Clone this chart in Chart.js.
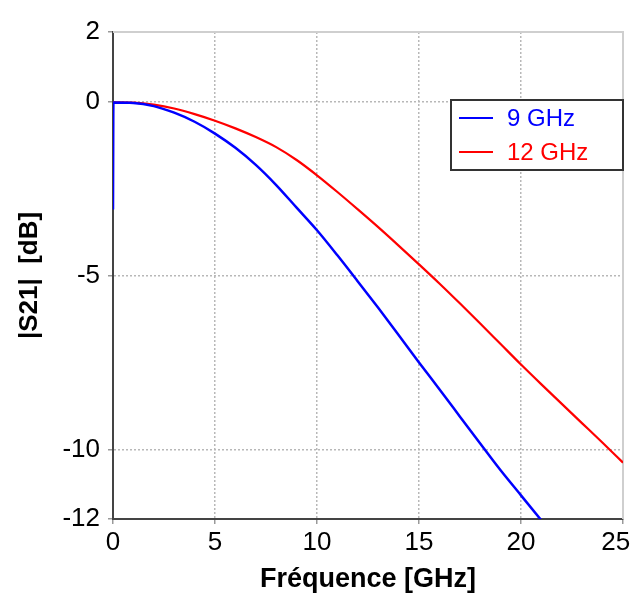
<!DOCTYPE html>
<html><head><meta charset="utf-8">
<script src="https://cdn.jsdelivr.net/npm/chart.js@4/dist/chart.umd.min.js"></script>
<style>html,body{margin:0;padding:0;background:#fff}#wrap{width:630px;height:594px}</style>
</head><body><div id="wrap"><canvas id="c" width="630" height="594"></canvas></div>
<script>
// Data
const freqGHz = [0,1,2,3,4,5,6,7,8,9,10,11,12,13,14,15,16,17,18,19,20,21,22,23,24,25];
const s21_9GHz = [-0.03,-0.04,-0.13,-0.32,-0.58,-0.92,-1.33,-1.82,-2.40,-3.05,-3.70,-4.42,-5.17,-5.93,-6.71,-7.5,-8.27,-9.05,-9.83,-10.6,-11.32,-12.04];
const s21_9GHzStart = -3.1;
const s21_12GHz = [-0.02,-0.03,-0.09,-0.2,-0.36,-0.55,-0.77,-1.02,-1.31,-1.68,-2.12,-2.6,-3.1,-3.61,-4.14,-4.68,-5.23,-5.8,-6.38,-6.97,-7.56,-8.13,-8.69,-9.25,-9.81,-10.38];
const xTicks = [0,5,10,15,20,25];
const yTicks = [2,0,-5,-10,-12];
const seriesLabels = ['9 GHz','12 GHz'];

const blueData = [{x:0,y:s21_9GHzStart}].concat(s21_9GHz.map((v,i)=>({x:freqGHz[i]+(i===0?0.02:0),y:v})));
const redData = s21_12GHz.map((v,i)=>({x:freqGHz[i],y:v}));

const FONT = "Arial, 'Liberation Sans', sans-serif";
const gridCol = '#b8b8b8';

const frame = {
  id:'frame',
  beforeDatasetsDraw(chart){
    const {ctx, chartArea:a} = chart;
    ctx.save();
    ctx.strokeStyle = '#cfcfcf'; ctx.lineWidth = 2;
    ctx.beginPath();
    ctx.moveTo(a.left, a.top); ctx.lineTo(a.right, a.top); ctx.lineTo(a.right, a.bottom);
    ctx.stroke();
    ctx.restore();
  },
  afterDatasetsDraw(chart){
    const {ctx, chartArea:a} = chart;
    const bx = a.left + 338, by = a.top + 68, bw = a.right - bx, bh = 70;
    ctx.save();
    ctx.fillStyle = '#fff';
    ctx.fillRect(bx, by, bw, bh);
    ctx.strokeStyle = '#333'; ctx.lineWidth = 2;
    ctx.strokeRect(bx, by, bw, bh);
    ctx.font = "24px " + FONT;
    ctx.textBaseline = 'middle';
    chart.data.datasets.forEach((ds, i) => {
      const y = by + 18 + i*34;
      ctx.strokeStyle = ds.borderColor; ctx.lineWidth = 2;
      ctx.beginPath(); ctx.moveTo(bx + 8, y); ctx.lineTo(bx + 42, y); ctx.stroke();
      ctx.fillStyle = ds.borderColor;
      ctx.fillText(ds.label, bx + 56, y + 1);
    });
    ctx.restore();
  }
};

new Chart(document.getElementById('c'), {
  type:'line',
  data:{datasets:[
    {label:seriesLabels[0], data:blueData, borderColor:'#0000ff', borderWidth:2.5, pointRadius:0, cubicInterpolationMode:'monotone', fill:false},
    {label:seriesLabels[1], data:redData, borderColor:'#ff0000', borderWidth:2.2, pointRadius:0, cubicInterpolationMode:'monotone', fill:false}
  ]},
  options:{
    responsive:false, animation:false,
    layout:{padding:{top:32,right:7,left:0,bottom:0}},
    plugins:{legend:{display:false}, tooltip:{enabled:false}},
    scales:{
      x:{type:'linear', min:0, max:25,
        afterBuildTicks(s){ s.ticks = xTicks.map(v=>({value:v})); },
        afterFit(s){ s.height = 75; s.paddingLeft = 0; s.paddingRight = 0; },
        ticks:{font:{family:FONT,size:26}, color:'#000', padding:3, maxRotation:0,
               callback:(v)=> v===25 ? '25  ' : String(v)},
        grid:{color:(c)=> (c.tick && (c.tick.value===0||c.tick.value===25)) ? 'rgba(0,0,0,0)' : gridCol,
              lineWidth:1.5, tickLength:5, tickColor:'#999', drawTicks:true},
        border:{display:true, color:'#444', width:2, dash:[2,2]},
        title:{display:true, text:'Fréquence [GHz]', color:'#000', font:{family:FONT,size:27,weight:'bold',lineHeight:1}, padding:{top:0,bottom:1}}
      },
      y:{type:'linear', min:-12, max:2,
        afterBuildTicks(s){ s.ticks = yTicks.map(v=>({value:v})); },
        afterFit(s){ s.width = 113; s.paddingTop = 0; s.paddingBottom = 0; },
        ticks:{font:{family:FONT,size:26}, color:'#000', padding:8},
        grid:{color:(c)=> (c.tick && (c.tick.value===2||c.tick.value===-12)) ? 'rgba(0,0,0,0)' : gridCol,
              lineWidth:1.5, tickLength:5, tickColor:'#999'},
        border:{display:true, color:'#444', width:2, dash:[2,2]},
        title:{display:true, text:'|S21|  [dB]', color:'#000', font:{family:FONT,size:26,weight:'bold',lineHeight:1}, padding:{top:17,bottom:0}}
      }
    }
  },
  plugins:[frame]
});
</script>
</body></html>
